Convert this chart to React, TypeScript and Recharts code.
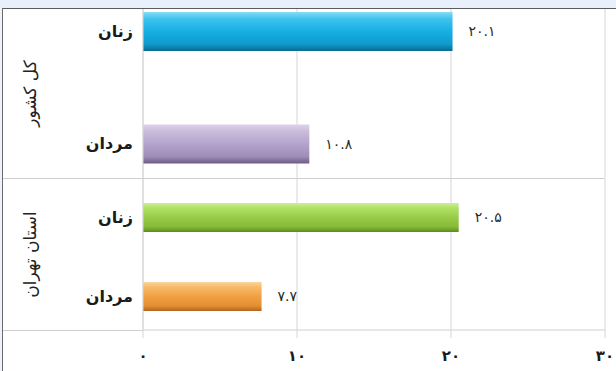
import React from "react";
import {
  BarChart,
  Bar,
  XAxis,
  YAxis,
  CartesianGrid,
  Cell,
  LabelList,
} from "recharts";

/* data */
const groupNames = ["کل کشور", "استان تهران"];
const categories = ["زنان", "مردان"];
const countryValues = [20.1, 10.8];
const tehranValues = [20.5, 7.7];
const xTicks = [0, 10, 20, 30];

const GRAD_COUNTRY = ["gCyan", "gPurple"];
const GRAD_TEHRAN = ["gGreen", "gOrange"];

const FONT = "'DejaVu Sans', sans-serif";
const GRID = "#d6d6d6";

function toFa(v: number | string) {
  return String(v).replace(/[0-9]/g, (d) => "۰۱۲۳۴۵۶۷۸۹"[Number(d)]);
}

function rows(values: number[]) {
  return categories.map((c, i) => ({ name: c, value: values[i] }));
}

function Gradients() {
  const defs: [string, string[]][] = [
    ["gCyan", ["#86dbf6", "#3ec2ee", "#16afe3", "#0f9bcd", "#0a6a90"]],
    ["gPurple", ["#ddd3ea", "#c8bcdc", "#b4a4cc", "#9e8db7", "#6c5c84"]],
    ["gGreen", ["#cdee98", "#b0df66", "#98cc48", "#86bb37", "#5c8a22"]],
    ["gOrange", ["#fcd6a0", "#f8ba68", "#f2a045", "#e48e33", "#b1661d"]],
  ];
  const offs = ["0%", "18%", "50%", "82%", "100%"];
  return (
    <defs>
      {defs.map(([id, cols]) => (
        <linearGradient key={id} id={id} x1="0" y1="0" x2="0" y2="1">
          {cols.map((c, i) => (
            <stop key={i} offset={offs[i]} stopColor={c} />
          ))}
        </linearGradient>
      ))}
    </defs>
  );
}

function groupLabel(text: string) {
  return (props: any) => {
    const vb = props.viewBox || {};
    const cx = 30;
    const cy = (vb.y ?? 0) + (vb.height ?? 0) / 2;
    return (
      <text
        x={cx}
        y={cy}
        transform={`rotate(-90 ${cx} ${cy})`}
        textAnchor="middle"
        dominantBaseline="central"
        fontFamily={FONT}
        fontSize={17}
        fill="#222"
      >
        {text}
      </text>
    );
  };
}

const catTick = { fontSize: 16, fontWeight: 700, fill: "#1a1a1a", fontFamily: FONT };
const valueStyle = { fontSize: 14, fill: "#2a2a2a", fontFamily: FONT };

export default function App() {
  const top = rows(countryValues);
  const bottom = rows(tehranValues);

  return (
    <div style={{ position: "absolute", left: 0, top: 0, width: 616, height: 371, background: "#fff", overflow: "hidden" }}>
      {/* frame */}
      <div style={{ position: "absolute", left: 0, top: 0, width: 616, height: 8, background: "#e8f1fb" }} />
      <div style={{ position: "absolute", left: 0, top: 8, width: 616, height: 1, background: "#5c5c5c" }} />
      <div style={{ position: "absolute", left: 0, top: 8, width: 2, height: 363, background: "#eef3f9" }} />
      <div style={{ position: "absolute", left: 2, top: 8, width: 1, height: 363, background: "#6a6a6a" }} />

      {/* kol-e keshvar */}
      <div style={{ position: "absolute", left: 0, top: 9 }}>
        <BarChart
          width={616}
          height={169}
          data={top}
          layout="vertical"
          margin={{ top: 0, right: 11, bottom: 0, left: 0 }}
        >
          <Gradients />
          <CartesianGrid horizontal={false} stroke={GRID} />
          <XAxis type="number" domain={[0, 30]} ticks={xTicks} hide />
          <YAxis
            type="category"
            dataKey="name"
            width={143}
            padding={{ top: -34, bottom: -22 }}
            axisLine={{ stroke: GRID }}
            tickLine={false}
            tickSize={0}
            tickMargin={10}
            tick={catTick}
            label={{ content: groupLabel(groupNames[0]) }}
          />
          <Bar dataKey="value" barSize={39} isAnimationActive={false}>
            {top.map((_, i) => (
              <Cell key={i} fill={`url(#${GRAD_COUNTRY[i]})`} />
            ))}
            <LabelList
              dataKey="value"
              position="right"
              offset={16}
              formatter={(v: any) => toFa(v)}
              style={valueStyle}
            />
          </Bar>
        </BarChart>
      </div>

      {/* group separators */}
      <div style={{ position: "absolute", left: 3, top: 178, width: 602, height: 1, background: "#cfcfcf" }} />
      <div style={{ position: "absolute", left: 3, top: 330, width: 140, height: 1, background: "#cfcfcf" }} />

      {/* ostan-e tehran */}
      <div style={{ position: "absolute", left: 0, top: 179 }}>
        <BarChart
          width={616}
          height={192}
          data={bottom}
          layout="vertical"
          margin={{ top: 0, right: 11, bottom: 0, left: 0 }}
        >
          <Gradients />
          <CartesianGrid horizontal={false} stroke={GRID} />
          <XAxis
            type="number"
            domain={[0, 30]}
            ticks={xTicks}
            height={41}
            axisLine={{ stroke: "#cfcfcf" }}
            tickLine={{ stroke: GRID }}
            tickSize={8}
            tickMargin={12}
            tickFormatter={(v: number) => toFa(v)}
            tick={{ fontSize: 15, fontWeight: 700, fill: "#1a1a1a", fontFamily: FONT }}
          />
          <YAxis
            type="category"
            dataKey="name"
            width={143}
            padding={{ top: -1, bottom: -6 }}
            axisLine={{ stroke: GRID }}
            tickLine={false}
            tickSize={0}
            tickMargin={10}
            tick={catTick}
            label={{ content: groupLabel(groupNames[1]) }}
          />
          <Bar dataKey="value" barSize={29} isAnimationActive={false}>
            {bottom.map((_, i) => (
              <Cell key={i} fill={`url(#${GRAD_TEHRAN[i]})`} />
            ))}
            <LabelList
              dataKey="value"
              position="right"
              offset={16}
              formatter={(v: any) => toFa(v)}
              style={valueStyle}
            />
          </Bar>
        </BarChart>
      </div>
    </div>
  );
}
